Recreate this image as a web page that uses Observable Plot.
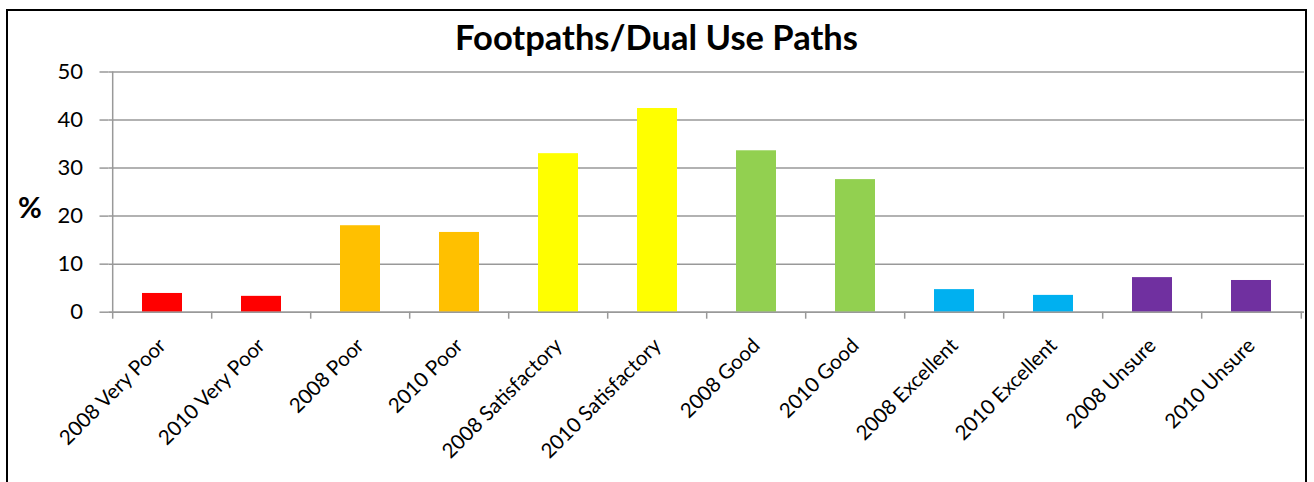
<!DOCTYPE html>
<html><head><meta charset="utf-8">
<script src="https://cdn.jsdelivr.net/npm/d3@7"></script>
<script src="https://cdn.jsdelivr.net/npm/@observablehq/plot@0.6"></script>
<style>
body{margin:0;background:#fff;font-family:Lato,sans-serif;}
#frame{position:absolute;left:6px;top:9px;width:1297px;height:490px;border:2px solid #000;overflow:hidden;background:#fff;}
#title{position:absolute;left:0;width:100%;top:5px;text-align:center;font-weight:bold;font-size:34.5px;line-height:1.2;color:#000;}
#chart{position:absolute;left:0;top:40px;}
#pct{position:absolute;left:10px;top:181px;font-weight:bold;font-size:29px;line-height:1;color:#000;}
#chart svg{display:block;overflow:visible;}
</style></head>
<body>
<div id="frame"><div id="title">Footpaths/Dual Use Paths</div><div id="chart"></div><div id="pct">%</div></div>
<script>
const categories = ["2008 Very Poor","2010 Very Poor","2008 Poor","2010 Poor","2008 Satisfactory","2010 Satisfactory","2008 Good","2010 Good","2008 Excellent","2010 Excellent","2008 Unsure","2010 Unsure"];
const values = [3.9, 3.3, 18.0, 16.6, 33.0, 42.4, 33.6, 27.6, 4.7, 3.5, 7.2, 6.6];
const groups = ["Very Poor","Very Poor","Poor","Poor","Satisfactory","Satisfactory","Good","Good","Excellent","Excellent","Unsure","Unsure"];
const groupNames = ["Very Poor","Poor","Satisfactory","Good","Excellent","Unsure"];
const groupColors = ["#FF0000","#FFC000","#FFFF00","#92D050","#00B0F0","#7030A0"];
const yTicks = [0,10,20,30,40,50];

const data = categories.map((c,i)=>({category:c, value:values[i], group:groups[i]}));
const W = 1297, H = 431, mL = 100.5, mR = 1, mT = 20.5, mB = 170.3;
const step = (W - mL - mR) / categories.length;
const grey = "#999";

const chart = Plot.plot({
  width: W, height: H,
  marginLeft: mL, marginRight: mR, marginTop: mT, marginBottom: mB,
  style: {fontFamily: "Lato, sans-serif", fontSize: "20.5px", color: "#000", background: "transparent", overflow: "visible"},
  x: {domain: categories, paddingInner: 0.6, paddingOuter: 0.3, label: null},
  y: {domain: [0, 50], label: null},
  color: {domain: groupNames, range: groupColors},
  marks: [
    Plot.gridY(yTicks, {stroke: grey, strokeOpacity: 1, strokeWidth: 1.5}),
    Plot.barY(data, {x: "category", y: "value", fill: "group"}),
    Plot.ruleY([0], {stroke: grey, strokeWidth: 1.5}),
    Plot.ruleX([categories[0]], {x: d => d, dx: -step/2, y1: 0, y2: 50, stroke: grey, strokeWidth: 1.5}),
    Plot.ruleX(categories, {x: d => d, dx: -step/2, y1: 0, y2: 0, insetBottom: -7, stroke: grey, strokeWidth: 1.5}),
    Plot.ruleX([categories[categories.length-1]], {x: d => d, dx: step/2, y1: 0, y2: 0, insetBottom: -7, stroke: grey, strokeWidth: 1.5}),
    Plot.axisY(yTicks, {tickSize: 9, tickPadding: 17, stroke: grey, strokeWidth: 1.5, fontSize: 22, fill: "#000"}),
    Plot.axisX({tickSize: 0, tickRotate: -45, tickPadding: 30, fontSize: 20.5, fill: "#000"})
  ]
});
document.getElementById("chart").appendChild(chart);
</script>
</body></html>
